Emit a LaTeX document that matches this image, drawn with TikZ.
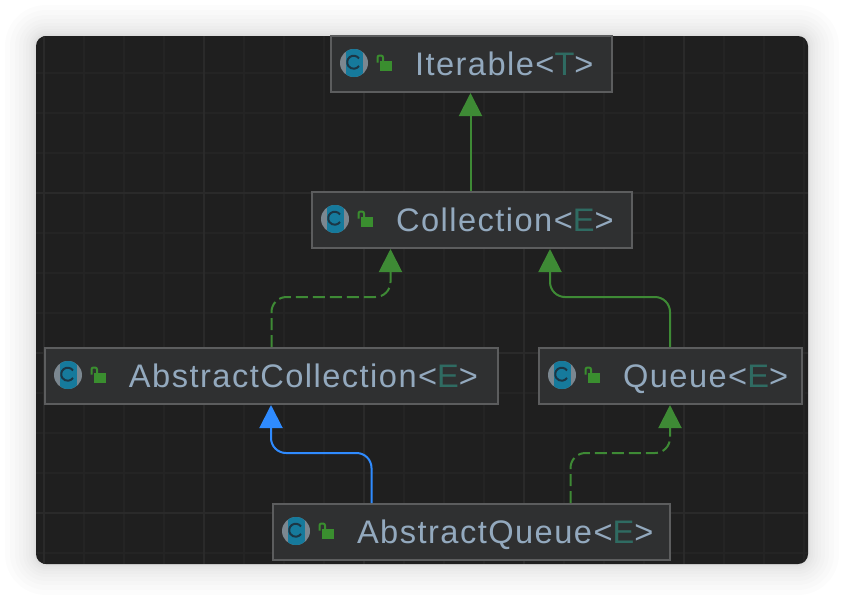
\documentclass[tikz,border=0pt]{standalone}
\usepackage{fontspec}
\setmainfont[LetterSpace=4.5]{Liberation Sans}
\usetikzlibrary{arrows.meta}
\definecolor{panel}{HTML}{1F1F1F}
\definecolor{gridminor}{HTML}{242424}
\definecolor{gridmajor}{HTML}{2A2A2A}
\definecolor{boxfill}{HTML}{2F3031}
\definecolor{boxline}{HTML}{5C5D5E}
\definecolor{labeltxt}{HTML}{93A9BE}
\definecolor{paramtxt}{HTML}{2F6B62}
\definecolor{relgreen}{HTML}{3E8A35}
\definecolor{relblue}{HTML}{2F8BFF}
\definecolor{icongrey}{HTML}{7B8790}
\definecolor{iconteal}{HTML}{167A9C}
\definecolor{icondark}{HTML}{1C3645}
\definecolor{lockgreen}{HTML}{3A8E2F}
\tikzset{
  umlbox/.style={draw=boxline,fill=boxfill,line width=2pt,inner sep=0pt,anchor=north west,
    text=labeltxt,font=\fontsize{32.6}{33}\selectfont,text height=23.5pt,text depth=0pt,minimum height=56pt},
  rel/.style={line width=2pt,rounded corners=15pt,-{Triangle[width=23pt,length=23pt]}},
  relg/.style={rel,draw=relgreen,color=relgreen},
  relb/.style={rel,draw=relblue,color=relblue},
  reld/.style={relg,dash pattern=on 12pt off 5pt},
}
\newcommand{\classbox}[6]{% name, x, y, width, label, param
  \node[umlbox,minimum width=#4pt] (#1) at (#2,#3)
    {\makebox[#4pt][l]{\hspace{84pt}#5<\textcolor{paramtxt}{#6}>}};
  \begin{scope}[shift={(#1.north west)}]
    \fill[icongrey] (24,28) circle[radius=14];
    \begin{scope}
      \clip (24,28) circle[radius=14];
      \fill[iconteal] (16,13) rectangle (33,43);
    \end{scope}
    \draw[icondark,line width=2pt] (29,23.5) arc[start angle=-35,end angle=-325,radius=6.5];
    \fill[lockgreen] (50,26) rectangle (62,36);
    \draw[lockgreen,line width=2pt,rounded corners=2pt] (47.5,27.5) -- (47.5,20.5) -- (53,20.5) -- (53,26);
  \end{scope}
}
\begin{document}
\begin{tikzpicture}[x=1pt,y=-1pt]
\useasboundingbox (0,0) rectangle (844,600);
\fill[white] (0,0) rectangle (844,600);
\foreach \r in {1,2,3,5,7,10,13,17,21,26,31}
  \fill[black,opacity=0.012,rounded corners=10pt+\r*1pt] (36-\r,36-\r) rectangle (808+\r,564+\r);
\fill[panel,rounded corners=10pt] (36,36) rectangle (808,564);
\begin{scope}
  \clip[rounded corners=10pt] (36,36) rectangle (808,564);
  \foreach \k in {0,...,19} \draw[gridminor,line width=1.5pt] (44+40*\k,36) -- (44+40*\k,564);
  \foreach \k in {0,...,13} \draw[gridminor,line width=1.5pt] (36,33+40*\k) -- (808,33+40*\k);
  \foreach \k in {0,...,4} \draw[gridmajor,line width=1.5pt] (44+160*\k,36) -- (44+160*\k,564);
  \foreach \k in {1,2,3} \draw[gridmajor,line width=1.5pt] (36,33+160*\k) -- (808,33+160*\k);
\end{scope}
\classbox{iterable}{330}{35}{281}{Iterable}{T}
\classbox{collection}{311}{191}{320}{Collection}{E}
\classbox{abscoll}{44}{347}{453}{AbstractCollection}{E}
\classbox{queue}{538}{347}{263}{Queue}{E}
\classbox{absqueue}{272}{503}{397}{AbstractQueue}{E}
\draw[relg] ([xshift=-1.5pt]collection.north) -- ([xshift=-1pt]iterable.south);
\draw[reld] ([xshift=227.5pt]abscoll.north west) |- (340,297) -| ([xshift=-81.5pt]collection.south);
\draw[relg] ([xshift=132pt]queue.north west) |- (600,297) -| ([xshift=78pt]collection.south);
\draw[relb] ([xshift=99.5pt]absqueue.north west) |- (320,453) -| ([xshift=-0.5pt]abscoll.south);
\draw[reld] ([xshift=298.5pt]absqueue.north west) |- (620,453) -| ([xshift=-0.5pt]queue.south);
\end{tikzpicture}
\end{document}
